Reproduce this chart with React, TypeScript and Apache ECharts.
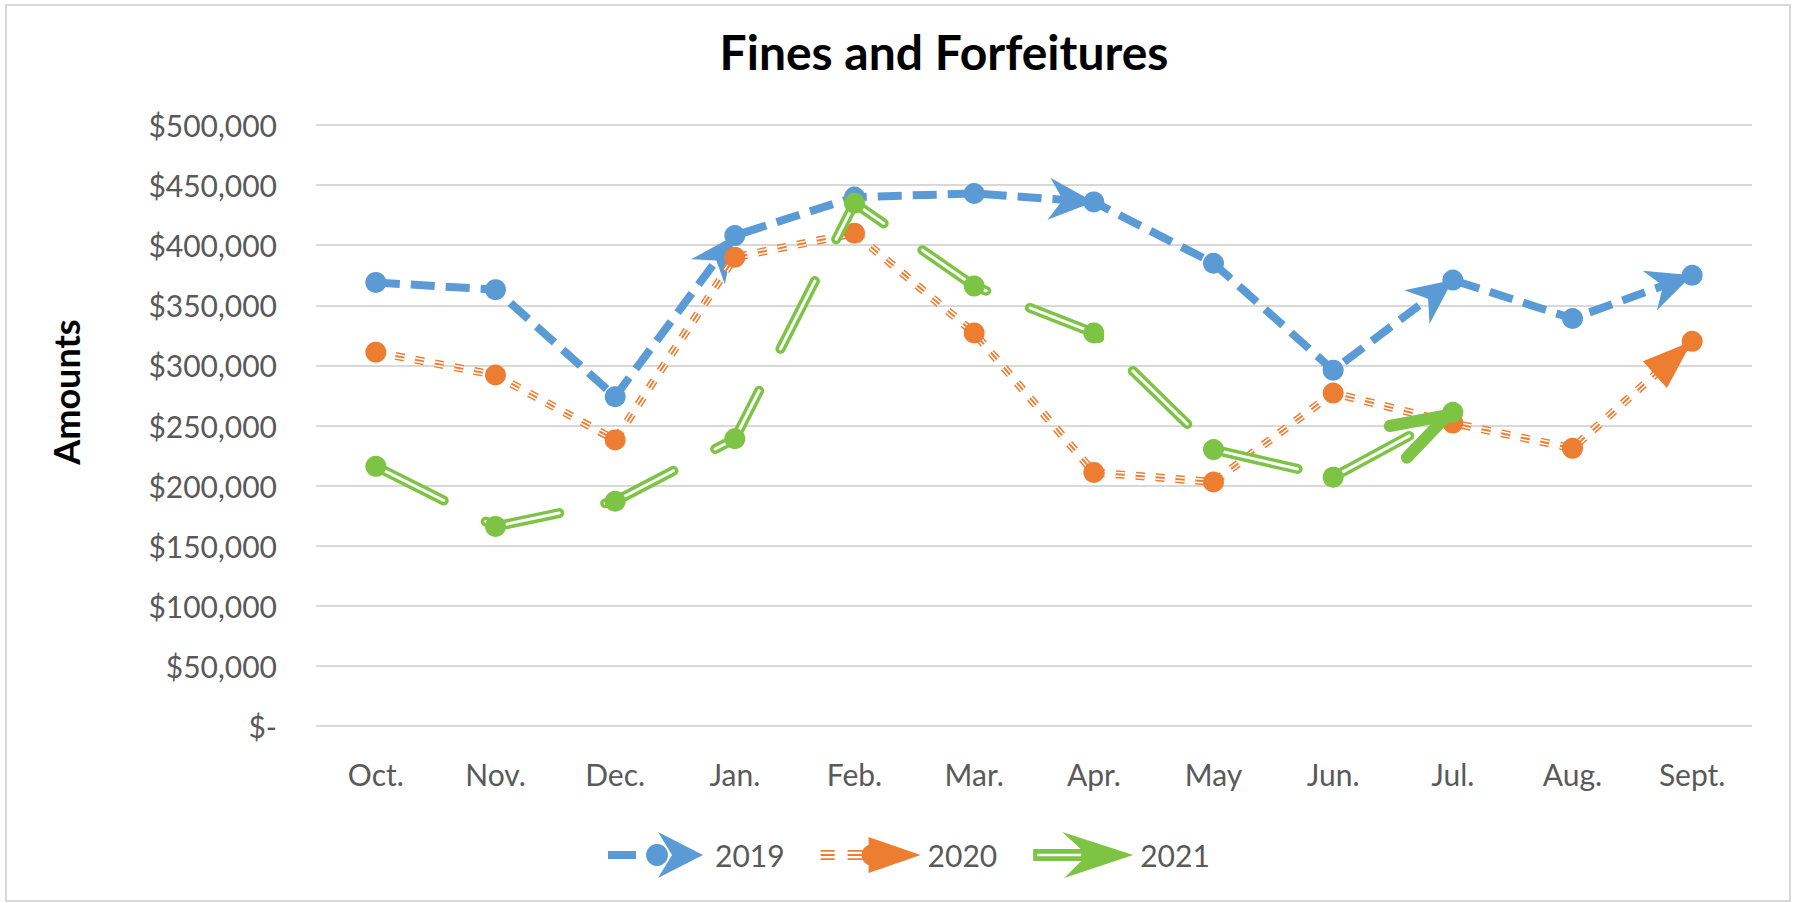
import React, { useEffect, useRef } from "react";
import * as echarts from "echarts";

const months = ["Oct.", "Nov.", "Dec.", "Jan.", "Feb.", "Mar.", "Apr.", "May", "Jun.", "Jul.", "Aug.", "Sept."];
const fy2019 = [369000, 363000, 274000, 408000, 440000, 443000, 436000, 385000, 296000, 371000, 339000, 375000];
const fy2020 = [311000, 292000, 238000, 390000, 410000, 327000, 211000, 203000, 277000, 252000, 231000, 320000];
const fy2021 = [216000, 166000, 187000, 239000, 435000, 366000, 327000, 230000, 207000, 261000, null, null];
const arrows2019 = [3, 6, 9, 11];
const arrows2020 = [11];
const arrows2021 = [9];
const seriesNames = ["2019", "2020", "2021"];
const yMin = 0;
const yMax = 500000;
const yStep = 50000;

const BLUE = "#5B9BD5";
const ORANGE = "#ED7D31";
const GREEN = "#7DC444";
const FONT = "Lato";

function circlePath(cx: number, cy: number, r: number): string {
  const pts: string[] = [];
  const n = 24;
  for (let i = 0; i < n; i++) {
    const a = (i / n) * Math.PI * 2;
    pts.push((i === 0 ? "M" : "L") + (cx + r * Math.cos(a)).toFixed(2) + " " + (cy + r * Math.sin(a)).toFixed(2));
  }
  return pts.join(" ") + " Z";
}
function rectPath(x1: number, y1: number, x2: number, y2: number): string {
  return `M${x1} ${y1} L${x2} ${y1} L${x2} ${y2} L${x1} ${y2} Z`;
}
const BOUNDS = "M0 0 L0 0 Z M100 46 L100 46 Z ";
const iconBlue =
  "path://" + BOUNDS + rectPath(0, 19, 28, 27) + " " + circlePath(49, 23, 11) + " M95 23 L50 46 L64 23 L50 0 Z";
const iconOrange =
  "path://" +
  BOUNDS +
  [
    [0, 14],
    [27, 42],
  ]
    .map(([a, b]) => rectPath(a, 18, b, 19.8) + " " + rectPath(a, 22.1, b, 23.9) + " " + rectPath(a, 26.2, b, 28))
    .join(" ") +
  " " +
  circlePath(52, 23, 11) +
  " M100 23 L48 41 L48 5 Z";
const iconGreen =
  "path://" + BOUNDS + rectPath(0, 17, 56, 29) + " M4 21.8 L4 24.2 L48 24.2 L48 21.8 Z M100 23 L31 46 L54 23 L29 0 Z";

function arrowData(values: (number | null)[], idx: number[]) {
  return idx.map((i) => [i, values[i], i - 1, values[i - 1]]);
}

function makeArrowSeries(name: string, values: (number | null)[], idx: number[], kind: string, color: string, z: number) {
  return {
    type: "custom",
    name,
    coordinateSystem: "cartesian2d",
    z,
    silent: true,
    encode: { x: 0, y: 1 },
    data: arrowData(values, idx),
    renderItem: (params: any, api: any) => {
      const p = api.coord([api.value(0), api.value(1)]);
      const q = api.coord([api.value(2), api.value(3)]);
      const dx = p[0] - q[0];
      const dy = p[1] - q[1];
      const len = Math.hypot(dx, dy) || 1;
      const ux = dx / len;
      const uy = dy / len;
      const px = -uy;
      const py = ux;
      const at = (back: number, side: number) => [p[0] - ux * back + px * side, p[1] - uy * back + py * side];
      if (kind === "stealth") {
        return {
          type: "polygon",
          shape: { points: [p, at(45, 21), at(31, 0), at(45, -21)] },
          style: { fill: color },
        };
      }
      if (kind === "triangle") {
        return {
          type: "polygon",
          shape: { points: [p, at(50, 18), at(50, -18)] },
          style: { fill: color },
        };
      }
      return {
        type: "polyline",
        shape: { points: [at(62, 18), at(6, 0), at(62, -18)] },
        style: { stroke: color, lineWidth: 12, lineCap: "round", lineJoin: "round", fill: null },
      };
    },
  };
}

function lineLayer(name: string, values: (number | null)[], color: string, lineColor: string, width: number, dash: number[], cap: string, z: number) {
  return {
    type: "line",
    name,
    data: values,
    z,
    silent: true,
    showSymbol: false,
    symbol: "none",
    itemStyle: { color },
    lineStyle: { color: lineColor, width, type: dash, cap, join: "round" },
  };
}
function markerLayer(name: string, values: (number | null)[], color: string, z: number) {
  return {
    type: "line",
    name,
    data: values,
    z,
    silent: true,
    symbol: "circle",
    symbolSize: 21,
    showAllSymbol: true,
    itemStyle: { color, borderWidth: 0 },
    lineStyle: { width: 0, opacity: 0 },
  };
}

export default function App() {
  const ref = useRef<HTMLDivElement>(null);
  useEffect(() => {
    if (!ref.current) return;
    const chart = echarts.init(ref.current, null, { renderer: "svg" });
    const option: any = {
      animation: false,
      backgroundColor: "#ffffff",
      title: {
        text: "Fines and Forfeitures",
        left: 939,
        top: 22,
        textAlign: "center",
        textStyle: { fontFamily: FONT, fontWeight: "bold", fontSize: 48, color: "#000000" },
      },
      grid: { left: 316, right: 43, top: 125, bottom: 177, containLabel: false },
      legend: {
        left: 603,
        top: 827,
        itemWidth: 100,
        itemHeight: 46,
        itemGap: 36,
        selectedMode: false,
        itemStyle: { borderWidth: 0 },
        textStyle: { fontFamily: FONT, fontSize: 30, color: "#595959", padding: [0, 0, 0, 2] },
        data: [
          { name: seriesNames[0], icon: iconBlue },
          { name: seriesNames[1], icon: iconOrange },
          { name: seriesNames[2], icon: iconGreen },
        ],
      },
      xAxis: {
        type: "category",
        data: months,
        boundaryGap: true,
        axisLine: { show: false },
        axisTick: { show: false },
        axisLabel: { margin: 33, fontFamily: FONT, fontSize: 30, color: "#595959" },
        splitLine: { show: false },
      },
      yAxis: {
        type: "value",
        min: yMin,
        max: yMax,
        interval: yStep,
        axisLine: { show: false },
        axisTick: { show: false },
        axisLabel: {
          margin: 39,
          fontFamily: FONT,
          fontSize: 30,
          color: "#595959",
          formatter: (v: number) => (v === 0 ? "$-" : "$" + v.toLocaleString("en-US")),
        },
        splitLine: { show: true, lineStyle: { color: "#D9D9D9", width: 2 } },
      },
      graphic: [
        {
          type: "rect",
          shape: { x: 6, y: 5, width: 1784, height: 896 },
          style: { fill: null, stroke: "#D9D9D9", lineWidth: 2 },
          silent: true,
          z: -1,
        },
        {
          type: "text",
          x: 66,
          y: 392,
          rotation: Math.PI / 2,
          style: {
            text: "Amounts",
            fontFamily: FONT,
            fontWeight: "bold",
            fontSize: 36,
            fill: "#000000",
            align: "center",
            verticalAlign: "middle",
          },
          silent: true,
        },
      ],
      series: [
        lineLayer(seriesNames[0], fy2019, BLUE, BLUE, 8, [24, 11], "butt", 2),
        makeArrowSeries("a2019", fy2019, arrows2019, "stealth", BLUE, 3),
        markerLayer(seriesNames[0], fy2019, BLUE, 4),

        lineLayer(seriesNames[1], fy2020, ORANGE, ORANGE, 8, [9, 11], "butt", 5),
        lineLayer(seriesNames[1], fy2020, ORANGE, "#ffffff", 5, [9, 11], "butt", 5),
        lineLayer(seriesNames[1], fy2020, ORANGE, ORANGE, 2, [9, 11], "butt", 5),
        makeArrowSeries("a2020", fy2020, arrows2020, "triangle", ORANGE, 6),
        markerLayer(seriesNames[1], fy2020, ORANGE, 7),

        lineLayer(seriesNames[2], fy2021, GREEN, GREEN, 10, [76, 47], "round", 8),
        lineLayer(seriesNames[2], fy2021, GREEN, "#ffffff", 3, [76, 47], "round", 8),
        makeArrowSeries("a2021", fy2021, arrows2021, "open", GREEN, 9),
        markerLayer(seriesNames[2], fy2021, GREEN, 10),
      ],
    };
    chart.setOption(option);
    return () => chart.dispose();
  }, []);
  return <div ref={ref} style={{ position: "absolute", left: 0, top: 0, width: 1795, height: 903 }} />;
}
